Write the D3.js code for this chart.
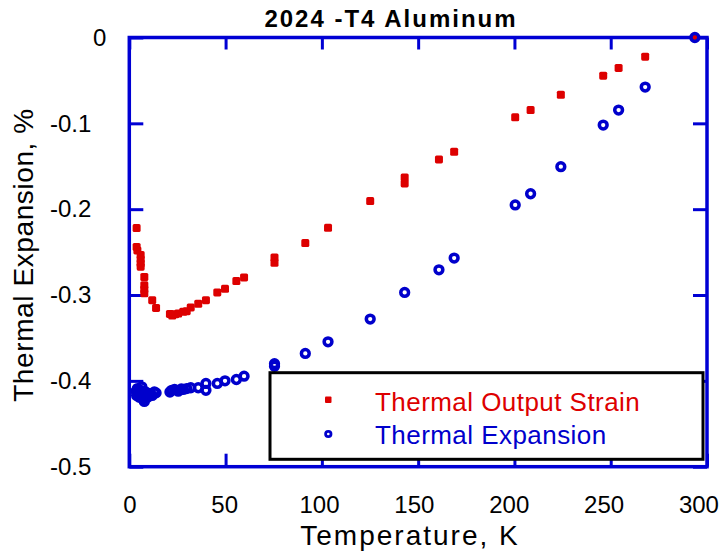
<!DOCTYPE html>
<html>
<head>
<meta charset="utf-8">
<script src="https://cdn.jsdelivr.net/npm/d3@7/dist/d3.min.js"></script>
<style>
  body { margin: 0; background: #fff; }
  svg { display: block; font-family: Arial, "Liberation Sans", sans-serif; }
</style>
</head>
<body>
<div id="chart"></div>
<script>
// temperatures (K) and values (%)
var strainT = [3.8, 3.8, 4.2, 5.9, 5.9, 5.9, 5.9, 7.8, 7.8, 7.8, 7.8, 11.9, 13.9,
  21.1, 22.3, 23.8, 25.4, 28, 29.8, 31.9, 35.8, 39.8, 45.7, 49.7, 55.6, 59.6,
  75.4, 75.4, 91.4, 103.2, 125.1, 143, 143, 160.8, 168.7,
  200.4, 208.4, 224.1, 246.1, 254.1, 267.9, 293.7];
var strainV = [-0.222, -0.244, -0.248, -0.2535, -0.2585, -0.263, -0.267, -0.279, -0.2885, -0.2935, -0.298, -0.306, -0.315,
  -0.322, -0.324, -0.3225, -0.3215, -0.3196, -0.3188, -0.3145, -0.3103, -0.306, -0.297, -0.2928, -0.2838, -0.2795,
  -0.2562, -0.2624, -0.2395, -0.2217, -0.1906, -0.163, -0.170, -0.142, -0.1331,
  -0.093, -0.0845, -0.0667, -0.0445, -0.0355, -0.0223, 0];

var expT = [3.5, 3.8, 4.2, 4.6, 5.2, 5.9, 5.9, 6.5, 7, 7.8, 7.8, 8.5, 9.5, 10.5, 11.9, 13, 13.9,
  21.1, 22, 23.5, 25.4, 27, 28, 29.8, 31.9, 35.8, 39.8, 39.8, 45.7, 49.7, 55.6, 59.6,
  75.4, 75.4, 91.4, 103.2, 125.1, 143, 160.8, 168.7,
  200.4, 208.4, 224.1, 246.1, 254.1, 267.9, 293.7];
var expV = [-0.412, -0.417, -0.409, -0.414, -0.419, -0.411, -0.415, -0.407, -0.421, -0.424, -0.418, -0.413, -0.419, -0.415, -0.417, -0.413, -0.414,
  -0.413, -0.411, -0.410, -0.412, -0.4095, -0.410, -0.409, -0.408, -0.408, -0.403, -0.411, -0.403, -0.400, -0.3984, -0.3945,
  -0.380, -0.383, -0.368, -0.3545, -0.328, -0.297, -0.2706, -0.257,
  -0.195, -0.182, -0.1505, -0.102, -0.0845, -0.0577, 0];

var xTicks = [0, 50, 100, 150, 200, 250, 300];
var yTicks = [0, -0.1, -0.2, -0.3, -0.4, -0.5];
var legendLabels = ["Thermal Output Strain", "Thermal Expansion"];

var width = 722, height = 554;
var frameColor = "#0000d4", redColor = "#dd0000", blueColor = "#0000cc";

var svg = d3.select("#chart").append("svg")
  .attr("width", width)
  .attr("height", height);

var x = d3.scaleLinear().domain([0, 300]).range([129.3, 707]);
var y = d3.scaleLinear().domain([-0.5, 0]).range([466.7, 37.5]);

// plain hyphen instead of d3's unicode minus
var yFormat = function(d) { return d === 0 ? "0" : d3.format(".1f")(d).replace("\u2212", "-"); };

//坐标轴
var bottom = svg.append("g")
  .attr("transform", "translate(0," + y(-0.5) + ")")
  .call(d3.axisBottom(x).tickValues(xTicks).tickSizeInner(-13).tickSizeOuter(0).tickPadding(29));
var left = svg.append("g")
  .attr("transform", "translate(" + x(0) + ",0)")
  .call(d3.axisLeft(y).tickValues(yTicks).tickSizeInner(-14).tickSizeOuter(0).tickPadding(38)
    .tickFormat(yFormat));
var top_ = svg.append("g")
  .attr("transform", "translate(0," + y(0) + ")")
  .call(d3.axisTop(x).tickValues(xTicks).tickSizeInner(-12).tickSizeOuter(0).tickFormat(""));
var right = svg.append("g")
  .attr("transform", "translate(" + x(300) + ",0)")
  .call(d3.axisRight(y).tickValues(yTicks).tickSizeInner(-14).tickSizeOuter(0).tickFormat(""));

svg.selectAll(".domain").remove();
svg.selectAll(".tick line").attr("stroke", frameColor).attr("stroke-width", 3);
svg.selectAll(".tick text")
  .attr("font-family", "Arial, 'Liberation Sans', sans-serif")
  .attr("font-size", 24)
  .attr("fill", "#000");
bottom.selectAll(".tick text").attr("dx", function(d) { return -d / 35; });
left.selectAll(".tick text").filter(function(d) { return d === 0; }).attr("x", -23);

svg.append("rect")
  .attr("x", x(0)).attr("y", y(0))
  .attr("width", x(300) - x(0)).attr("height", y(-0.5) - y(0))
  .attr("fill", "none")
  .attr("stroke", frameColor)
  .attr("stroke-width", 3.5);

// 标题和轴标签
svg.append("text")
  .attr("x", 391).attr("y", 27)
  .attr("text-anchor", "middle")
  .attr("font-size", 24).attr("font-weight", "bold")
  .attr("letter-spacing", 2)
  .text("2024 -T4 Aluminum");

svg.append("text")
  .attr("x", 410).attr("y", 545)
  .attr("text-anchor", "middle")
  .attr("font-size", 28)
  .attr("letter-spacing", 2)
  .text("Temperature, K");

svg.append("text")
  .attr("transform", "translate(33,255) rotate(-90)")
  .attr("text-anchor", "middle")
  .attr("font-size", 28)
  .attr("letter-spacing", 0.6)
  .text("Thermal Expansion, %");

//数据点
var strain = strainT.map(function(t, i) { return [t, strainV[i]]; });
var expansion = expT.map(function(t, i) { return [t, expV[i]]; });

svg.append("g").attr("class", "g-strain")
  .selectAll("rect")
  .data(strain)
  .enter()
  .append("rect")
  .attr("x", function(d) { return x(d[0]) - 4; })
  .attr("y", function(d) { return y(d[1]) - 4; })
  .attr("width", 8).attr("height", 8)
  .attr("rx", 1.6)
  .attr("fill", redColor);

svg.append("g").attr("class", "g-exp")
  .selectAll("circle")
  .data(expansion)
  .enter()
  .append("circle")
  .attr("cx", function(d) { return x(d[0]); })
  .attr("cy", function(d) { return y(d[1]); })
  .attr("r", 3.9)
  .attr("fill", "none")
  .attr("stroke", blueColor)
  .attr("stroke-width", 3.5);

// 图例
var legend = svg.append("g").attr("class", "legend");
legend.append("rect")
  .attr("x", 270).attr("y", 372.7)
  .attr("width", 433).attr("height", 86.6)
  .attr("fill", "#fff")
  .attr("stroke", "#000")
  .attr("stroke-width", 3);
legend.append("rect")
  .attr("x", 325).attr("y", 396.5)
  .attr("width", 6.5).attr("height", 6.5)
  .attr("rx", 1)
  .attr("fill", redColor);
legend.append("circle")
  .attr("cx", 328.3).attr("cy", 434)
  .attr("r", 2.7)
  .attr("fill", "none")
  .attr("stroke", blueColor)
  .attr("stroke-width", 2.8);
legend.selectAll(".label")
  .data(legendLabels)
  .enter()
  .append("text")
  .attr("class", "label")
  .attr("x", 375)
  .attr("y", function(d, i) { return i === 0 ? 410.7 : 444; })
  .attr("font-size", 26)
  .attr("letter-spacing", 0.45)
  .attr("fill", function(d, i) { return i === 0 ? redColor : blueColor; })
  .text(function(d) { return d; });
</script>
</body>
</html>
